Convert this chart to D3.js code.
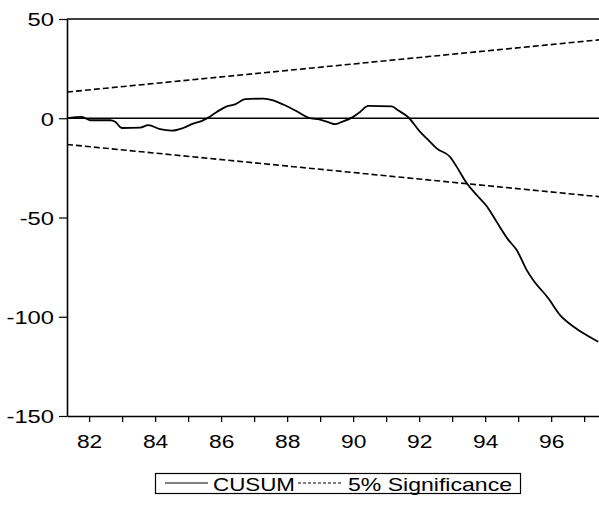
<!DOCTYPE html>
<html>
<head>
<meta charset="utf-8">
<script src="https://cdn.jsdelivr.net/npm/d3@7"></script>
<style>
  body { margin: 0; background: #fff; }
  text { font-family: "Liberation Sans", Arial, sans-serif; fill: #000; }
</style>
</head>
<body>
<svg id="chart" width="599" height="510"></svg>
<script>
// CUSUM statistic (decimal years, 19xx)
const dates = [81.33, 81.78, 82.03, 82.64, 82.79, 82.99, 83.55, 83.79, 84.15, 84.51,
  84.85, 85.15, 85.42, 85.61, 85.87, 86.17, 86.42, 86.73, 87.28, 87.58,
  87.88, 88.29, 88.64, 89.0, 89.3, 89.45, 89.66, 89.96, 90.21, 90.46,
  91.17, 91.36, 91.67, 92.03, 92.28, 92.54, 92.94, 93.14, 93.45, 93.75,
  94.05, 94.35, 94.71, 94.96, 95.26, 95.46, 95.92, 96.27, 96.68, 97.08, 97.43];
const cusum = [0, 0.7, -1, -1, -1.8, -4.9, -4.7, -3.5, -5.5, -6.2,
  -4.9, -2.7, -1.3, 0.3, 3.2, 6, 7, 9.6, 9.9, 9,
  6.9, 3.5, 0.3, -0.7, -2.3, -3, -1.8, 0.3, 3.2, 6.2,
  6, 4, 0.5, -6.9, -11, -15.3, -19.5, -24.5, -32.9, -38.8,
  -44.3, -52.2, -61.4, -66.5, -76.5, -81.6, -90.8, -99.2, -105, -109.3, -112.6];

// 5% significance bounds (straight lines)
const bandDates = [81.33, 97.45];
const upper5 = [13.2, 39.5];
const lower5 = [-13.2, -39.5];

const yTicks = [-150, -100, -50, 0, 50];
const xTicks = d3.range(82, 98);
const legendLabels = ["CUSUM", "5% Significance"];

const svg = d3.select("#chart");
const plotLeft = 67, plotRight = 599, plotTop = 19, plotBottom = 416;

const x = d3.scaleLinear().domain([81.33, 97.45]).range([plotLeft, plotRight]);
const y = d3.scaleLinear().domain([-150, 50]).range([plotBottom, plotTop]);

// frame: top border + zero line
svg.append("line")
  .attr("x1", plotLeft).attr("x2", plotRight)
  .attr("y1", y(50)).attr("y2", y(50))
  .attr("stroke", "#000").attr("stroke-width", 1.6);

svg.append("line")
  .attr("x1", plotLeft).attr("x2", plotRight)
  .attr("y1", y(0)).attr("y2", y(0))
  .attr("stroke", "#000").attr("stroke-width", 1.4);

// axes
const xAxis = d3.axisBottom(x)
  .tickValues(xTicks)
  .tickSizeInner(6).tickSizeOuter(0)
  .tickFormat(d => d % 2 === 0 ? String(d) : "");

const gx = svg.append("g")
  .attr("transform", `translate(0,${plotBottom})`)
  .call(xAxis);
gx.select(".domain").attr("stroke-width", 1.6);
gx.selectAll(".tick line").attr("stroke-width", 1.3);
gx.selectAll(".tick text")
  .attr("font-size", 19)
  .attr("font-family", "Liberation Sans, Arial, sans-serif")
  .attr("y", 32).attr("dy", 0)
  .attr("transform", "scale(1.2,1)");

const yAxis = d3.axisLeft(y)
  .tickValues(yTicks)
  .tickSizeInner(8).tickSizeOuter(0)
  .tickFormat(d => String(d));

const gy = svg.append("g")
  .attr("transform", `translate(${plotLeft},0)`)
  .call(yAxis);
gy.select(".domain").attr("stroke-width", 1.6);
gy.selectAll(".tick line").attr("stroke-width", 1.2);
gy.selectAll(".tick text")
  .attr("font-size", 19)
  .attr("font-family", "Liberation Sans, Arial, sans-serif")
  .attr("x", -13 / 1.25)
  .attr("dy", "0.36em")
  .attr("transform", "scale(1.25,1)");

// significance bounds
const bandLine = d3.line().x(d => x(d[0])).y(d => y(d[1]));
[upper5, lower5].forEach(vals => {
  svg.append("path")
    .datum(bandDates.map((d, i) => [d, vals[i]]))
    .attr("d", bandLine)
    .attr("fill", "none")
    .attr("stroke", "#000")
    .attr("stroke-width", 1.6)
    .attr("stroke-dasharray", "6,3");
});

// CUSUM line
const line = d3.line()
  .x(d => x(d[0]))
  .y(d => y(d[1]))
  .curve(d3.curveMonotoneX);

svg.append("path")
  .datum(dates.map((d, i) => [d, cusum[i]]))
  .attr("d", line)
  .attr("fill", "none")
  .attr("stroke", "#000")
  .attr("stroke-width", 1.8);

// legend
const lg = svg.append("g");
lg.append("rect")
  .attr("x", 155.5).attr("y", 473.5)
  .attr("width", 365).attr("height", 20)
  .attr("fill", "none").attr("stroke", "#000").attr("stroke-width", 1.2);

lg.append("line")
  .attr("x1", 165).attr("x2", 208).attr("y1", 483).attr("y2", 483)
  .attr("stroke", "#000").attr("stroke-width", 1);
lg.append("text")
  .attr("x", 213).attr("y", 490.5)
  .attr("font-size", 19)
  .attr("textLength", 82).attr("lengthAdjust", "spacingAndGlyphs")
  .text(legendLabels[0]);

lg.append("line")
  .attr("x1", 298).attr("x2", 343).attr("y1", 483).attr("y2", 483)
  .attr("stroke", "#000").attr("stroke-width", 1)
  .attr("stroke-dasharray", "3,2");
lg.append("text")
  .attr("x", 348).attr("y", 490.5)
  .attr("font-size", 19)
  .attr("textLength", 164).attr("lengthAdjust", "spacingAndGlyphs")
  .text(legendLabels[1]);
</script>
</body>
</html>
